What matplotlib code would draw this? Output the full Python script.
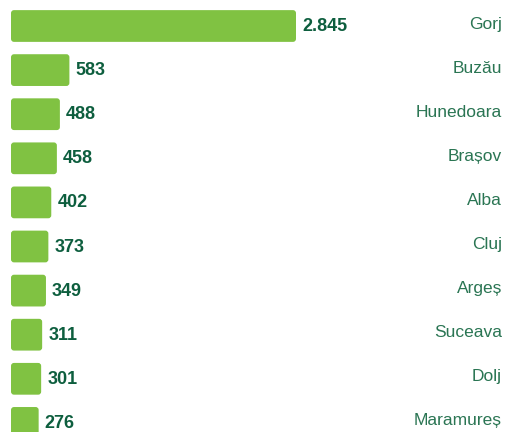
import matplotlib
matplotlib.use("Agg")
import matplotlib.pyplot as plt
from matplotlib.patches import FancyBboxPatch

categories = ["Gorj", "Buzău", "Hunedoara", "Brașov", "Alba", "Cluj", "Argeș", "Suceava", "Dolj", "Maramureș"]
values = [2845, 583, 488, 458, 402, 373, 349, 311, 301, 276]
value_labels = ["2.845", "583", "488", "458", "402", "373", "349", "311", "301", "276"]

W, H, DPI = 505, 432, 100
fig = plt.figure(figsize=(W / DPI, H / DPI), dpi=DPI)
left_px = 11
ax = fig.add_axes([left_px / W, 0, 1 - left_px / W, 1])
ax.axis("off")

px_per_unit_x = 285 / 2845.0
spacing_px = 44.1
first_center_px = 26
xmax = (W - left_px) / px_per_unit_x
ax.set_xlim(0, xmax)
ax.set_ylim((H - first_center_px) / spacing_px, -first_center_px / spacing_px)

bar_color = "#80C242"
val_color = "#0D5E3E"
cat_color = "#2A7553"

bars = ax.barh(range(len(values)), values, height=0.72, color=bar_color)
r_px = 3.0
r_x = r_px / px_per_unit_x
aspect = (1 / spacing_px) / (1 / px_per_unit_x)
for b in bars:
    x, y = b.get_x(), b.get_y()
    w, h = b.get_width(), b.get_height()
    b.set_visible(False)
    p = FancyBboxPatch((x, y), w, h, boxstyle=f"round,pad=0,rounding_size={r_x}",
                       mutation_aspect=aspect, facecolor=bar_color, edgecolor="none")
    ax.add_patch(p)

for i, (v, lab) in enumerate(zip(values, value_labels)):
    ax.annotate(lab, xy=(v, i), xytext=(6, -0.5), textcoords="offset pixels",
                ha="left", va="center", fontsize=13, fontweight="bold",
                color=val_color, family="Liberation Sans")

for i, cat in enumerate(categories):
    ax.annotate(cat, xy=(1, i), xycoords=("axes fraction", "data"),
                xytext=(-3, 2), textcoords="offset pixels",
                ha="right", va="center", fontsize=12.5, color=cat_color,
                family="Liberation Sans")

fig.savefig("out.png", dpi=DPI)
